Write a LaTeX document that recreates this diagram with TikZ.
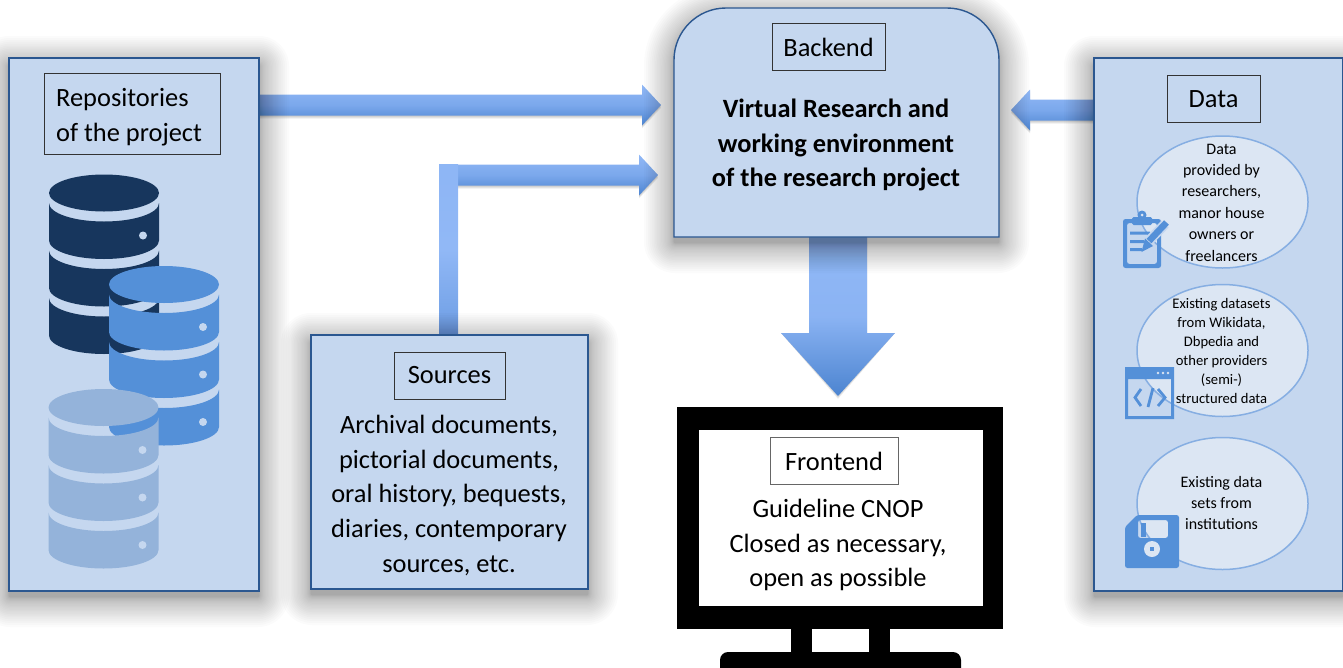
\documentclass[tikz,border=0pt]{standalone}
\usepackage{fontspec}
\setmainfont{Carlito}
\usetikzlibrary{calc,shapes.geometric}
\pgfdeclarelayer{arrowlayer}
\pgfdeclarelayer{shadowlayer}
\pgfsetlayers{arrowlayer,shadowlayer,main}
\definecolor{panelfill}{HTML}{C5D7EF}
\definecolor{panelline}{HTML}{2B5790}
\definecolor{ellfill}{HTML}{DCE6F3}
\definecolor{ellline}{HTML}{86AEE2}
\definecolor{iconblue}{HTML}{5490D8}
\definecolor{dbdark}{HTML}{17365D}
\definecolor{dblight}{HTML}{94B3DA}
\definecolor{arrowlight}{HTML}{91B8F6}
\definecolor{arrowmid}{HTML}{7BA8EC}
\definecolor{arrowdark}{HTML}{4C84D0}
\tikzset{
  x=1pt,y=-1pt,
  panelbox/.style={draw=panelline,fill=panelfill,line width=1.4pt,inner sep=0pt,outer sep=0pt,anchor=north west},
  labelbox/.style={draw=#1,line width=.9pt,inner sep=0pt,outer sep=0pt,anchor=north west,text=black},
  labelbox/.default={black!80},
  wordtext/.style={font=\fontsize{26.4}{35}\selectfont,inner sep=0pt,text=black},
  maintext/.style={font=\fontsize{26.4}{34.8}\selectfont,align=center,text=black,inner sep=0pt},
  ell/.style={draw=ellline,fill=ellfill,line width=1.5pt,ellipse,inner sep=0pt,outer sep=0pt},
  elltext/.style={align=center,inner sep=0pt,text=black},
  icon/.style={fill=iconblue,even odd rule},
  arrowhshade/.style={top color=arrowlight,bottom color=arrowdark,middle color=arrowmid},
}
% soft drop shadow of a rectangular node; #2 = radius of the top corners
\newcommand\softshadow[2]{%
  \begin{pgfonlayer}{shadowlayer}
  \foreach \i in {1,...,26}{%
    \pgfmathsetmacro\dd{30*(\i/26)^1.8}
    \pgfmathsetmacro\topr{#2+\dd}
    \pgfmathsetmacro\botr{1+\dd}
    \fill[black,opacity=.016,rounded corners=\botr pt]
      ([yshift={-\dd pt-6pt}]#1.south)
      -- ([shift={(-\dd pt,-\dd pt-6pt)}]#1.south west)
      [rounded corners=\topr pt] -- ([shift={(-\dd pt,\dd pt-8pt)}]#1.north west)
      -- ([shift={(\dd pt,\dd pt-8pt)}]#1.north east)
      [rounded corners=\botr pt] -- ([shift={(\dd pt,-\dd pt-6pt)}]#1.south east)
      -- cycle;
  }
  \end{pgfonlayer}}
% horizontal block arrow from #1 to tip #2, direction #3 (+1 right, -1 left)
\newcommand\hblock[3]{%
  \begin{pgfonlayer}{arrowlayer}
  \foreach \s in {1,2,3}{%
    \fill[black,opacity=.07] let \p1=(#1),\p2=(#2),\n1={\x2-(#3)*19pt} in
      (\x1,\y1+10.5pt-\s pt) -- (\n1,\y1+10.5pt-\s pt) -- (\n1,\y1+20.5pt-\s pt) -- (\x2,\y2-\s pt)
      -- (\n1,\y1-20.5pt-\s pt) -- (\n1,\y1-10.5pt-\s pt) -- (\x1,\y1-10.5pt-\s pt) -- cycle;
  }
  \path[arrowhshade] let \p1=(#1),\p2=(#2),\n1={\x2-(#3)*19pt} in
      (\x1,\y1+10.5pt) -- (\n1,\y1+10.5pt) -- (\n1,\y1+20.5pt) -- (\x2,\y2)
      -- (\n1,\y1-20.5pt) -- (\n1,\y1-10.5pt) -- (\x1,\y1-10.5pt) -- cycle;
  \end{pgfonlayer}}
% database cylinder: centre x, top y of the lid, colour
\newcommand\dbstack[3]{%
  \begin{scope}[shift={(#1,#2+18.5)}]
    \fill[#3] (-55,0) .. controls (-55,-10.2) and (-30.4,-18.5) .. (0,-18.5)
       .. controls (30.4,-18.5) and (55,-10.2) .. (55,0)
       .. controls (55,10.2) and (30.4,18.5) .. (0,18.5)
       .. controls (-30.4,18.5) and (-55,10.2) .. (-55,0) -- cycle;
    \foreach \t in {10,57.5,105}{%
      \fill[#3] (-55,\t) .. controls (-55,\t+10.2) and (-30.4,\t+18.5) .. (0,\t+18.5)
         .. controls (30.4,\t+18.5) and (55,\t+10.2) .. (55,\t)
         -- (55,\t+37.5)
         .. controls (55,\t+47.7) and (30.4,\t+56) .. (0,\t+56)
         .. controls (-30.4,\t+56) and (-55,\t+47.7) .. (-55,\t+37.5) -- cycle;
      \fill[panelfill] (39,\t+32.5) circle[radius=4];
    }
  \end{scope}}
\begin{document}
\begin{tikzpicture}
\path[use as bounding box] (0,0) rectangle (1343,667);
\clip (0,0) rectangle (1343,667);

% ---------- panels
\node[panelbox,minimum width=250pt,minimum height=533pt] (repo) at (9,58) {};
\node[panelbox,minimum width=277pt,minimum height=254pt] (sources) at (311,335) {};
\node[panelbox,minimum width=249pt,minimum height=533pt] (data) at (1094,58) {};
\node[inner sep=0pt,outer sep=0pt,minimum width=325pt,minimum height=229pt,anchor=north west] (backend) at (674,8) {};
\draw[draw=panelline,fill=panelfill,line width=1.4pt] (backend.south west)
   [rounded corners=52pt] -- (backend.north west) -- (backend.north east)
   [sharp corners] -- (backend.south east) -- cycle;
\softshadow{repo}{0}
\softshadow{sources}{0}
\softshadow{data}{0}
\softshadow{backend}{50}

% ---------- connectors (block arrows)
\coordinate (a1tip) at (661,105);
\coordinate (a2elbow) at (458,175);
\coordinate (a2tip) at (658,175);
\coordinate (a2top) at (448.5,164);
\coordinate (a3tip) at (1011,110);
\coordinate (a4tip) at (838,396);
\hblock{repo.east |- a1tip}{a1tip}{1}
\hblock{a2elbow}{a2tip}{1}
\hblock{data.west |- a3tip}{a3tip}{-1}
\begin{pgfonlayer}{arrowlayer}
  \path[top color=arrowlight!85!arrowmid,bottom color=arrowmid!70!arrowdark,middle color=arrowlight]
    ([xshift=-9.5pt]a2top) rectangle ([xshift=9.5pt]a2top |- sources.north);
  \foreach \s in {1,2,3}{%
    \fill[black,opacity=.06] let \p1=(a4tip |- backend.south),\p2=(a4tip),\n1={\y2+63pt} in
      (\x1-29pt,\y1) -- (\x1-29pt,\n1) -- (\x1-57pt,\n1) -- (\x2,\y2-\s pt)
      -- (\x1+57pt,\n1) -- (\x1+29pt,\n1) -- (\x1+29pt,\y1) -- cycle;
  }
  \path[top color=arrowlight,bottom color=arrowdark,middle color=arrowlight!70!arrowmid]
    let \p1=(a4tip |- backend.south),\p2=(a4tip),\n1={\y2+63pt} in
      (\x1-29pt,\y1) -- (\x1-29pt,\n1) -- (\x1-57pt,\n1) -- (\x2,\y2)
      -- (\x1+57pt,\n1) -- (\x1+29pt,\n1) -- (\x1+29pt,\y1) -- cycle;
\end{pgfonlayer}

% ---------- repositories
\node[labelbox,minimum width=176pt,minimum height=81pt] (repolabel) at (44,73) {};
\node[anchor=west,wordtext,align=left] (repotext) at (56,117) {Repositories\\of the project};
\dbstack{104}{174.5}{dbdark}
\dbstack{164}{266}{iconblue}
\dbstack{103.5}{389}{dblight}

% ---------- sources
\node[labelbox,minimum width=111pt,minimum height=47pt] (sourceslabel) at (394,352) {};
\node[wordtext] (sourcesword) at (449.5,375.5) {Sources};
\node[maintext] (sourcestext) at (449,495.5) {Archival documents,\\pictorial documents,\\oral history, bequests,\\diaries, contemporary\\sources, etc.};

% ---------- backend
\node[labelbox,minimum width=113pt,minimum height=47pt] (backendlabel) at (772,23) {};
\node[wordtext] (backendword) at (828.5,47) {Backend};
\node[maintext,font=\fontsize{26.4}{34.8}\selectfont\bfseries] (backendtext) at (836,145) {Virtual Research and\\working environment\\of the research project};

% ---------- frontend
\node[fill=black,inner sep=0pt,outer sep=0pt,minimum width=326pt,minimum height=222pt,anchor=north west] (monitor) at (677,407) {};
\node[fill=white,inner sep=0pt,outer sep=0pt,minimum width=284pt,minimum height=176pt,anchor=north west] (screen) at (699,430) {};
\fill[black] (791,629) rectangle (812,655);
\fill[black] (869,629) rectangle (890,655);
\fill[black,rounded corners=8pt] (720,680) -- (720,652) -- (961,652) -- (961,680) -- cycle;
\node[labelbox=black!60,minimum width=128pt,minimum height=47pt] (frontlabel) at (770,437) {};
\node[wordtext] (frontword) at (834,461) {Frontend};
\node[maintext] (fronttext) at (838,545) {Guideline CNOP\\Closed as necessary,\\open as possible};

% ---------- data
\node[labelbox,minimum width=93pt,minimum height=47pt] (datalabel) at (1167,75) {};
\node[wordtext] (dataword) at (1213.5,99) {Data};
\node[ell,minimum width=171pt,minimum height=132pt] (ell1) at (1222.5,202) {};
\node[ell,minimum width=171pt,minimum height=132pt] (ell2) at (1222.5,350.5) {};
\node[ell,minimum width=171pt,minimum height=132pt] (ell3) at (1222.5,503.5) {};
\node[elltext,font=\fontsize{16}{21.4}\selectfont] (ell1text) at (1221.5,202.5) {Data\\provided by\\researchers,\\manor house\\owners or\\freelancers};
\node[elltext,font=\fontsize{14.6}{19}\selectfont] (ell2text) at (1221.5,350.5) {Existing datasets\\from Wikidata,\\Dbpedia and\\other providers\\(semi-)\\structured data};
\node[elltext,font=\fontsize{16}{21}\selectfont] (ell3text) at (1221.5,503) {Existing data\\sets from\\institutions};

% clipboard icon
\fill[icon,rounded corners=2.5pt] (1123,219) rectangle (1161,268) (1127,223) rectangle (1157,264);
\fill[iconblue,rounded corners=1.5pt] (1132,217) rectangle (1152,225);
\fill[iconblue] (1142,215) circle[radius=4.5];
\fill[ellfill] (1142,215) circle[radius=1.5];
\fill[iconblue] (1130,231.5) rectangle (1150,234.5) (1130,240) rectangle (1146,243) (1130,248) rectangle (1142,251);
\draw[panelfill,line width=10pt] (1147,243) -- (1165,224);
\draw[iconblue,line width=6.5pt] (1149,241) -- (1166.5,222.5);
\fill[iconblue] (1141.5,252) -- (1145,238.5) -- (1153,246) -- cycle;

% code window icon
\fill[icon] (1125,367) rectangle (1174,419) (1128,379) rectangle (1171,416);
\foreach \xx in {1158,1163,1168}{\fill[ellfill] (\xx,373) circle[radius=1.3];}
\draw[iconblue,line width=2.8pt] (1141,389) -- (1135,397.5) -- (1141,406);
\draw[iconblue,line width=2.8pt] (1153,388) -- (1148,407);
\draw[iconblue,line width=2.8pt] (1158,389) -- (1165,397.5) -- (1158,406);

% floppy icon
\fill[icon,rounded corners=2.5pt] (1125,568) -- (1125,527) -- (1137,515) -- (1179,515) -- (1179,568) -- cycle
   (1138,520) rectangle (1168,538);
\fill[iconblue] (1141,523) rectangle (1146,537);
\fill[ellfill] (1152,549) circle[radius=8];
\fill[iconblue] (1150,547) rectangle (1154,551);
\end{tikzpicture}
\end{document}
